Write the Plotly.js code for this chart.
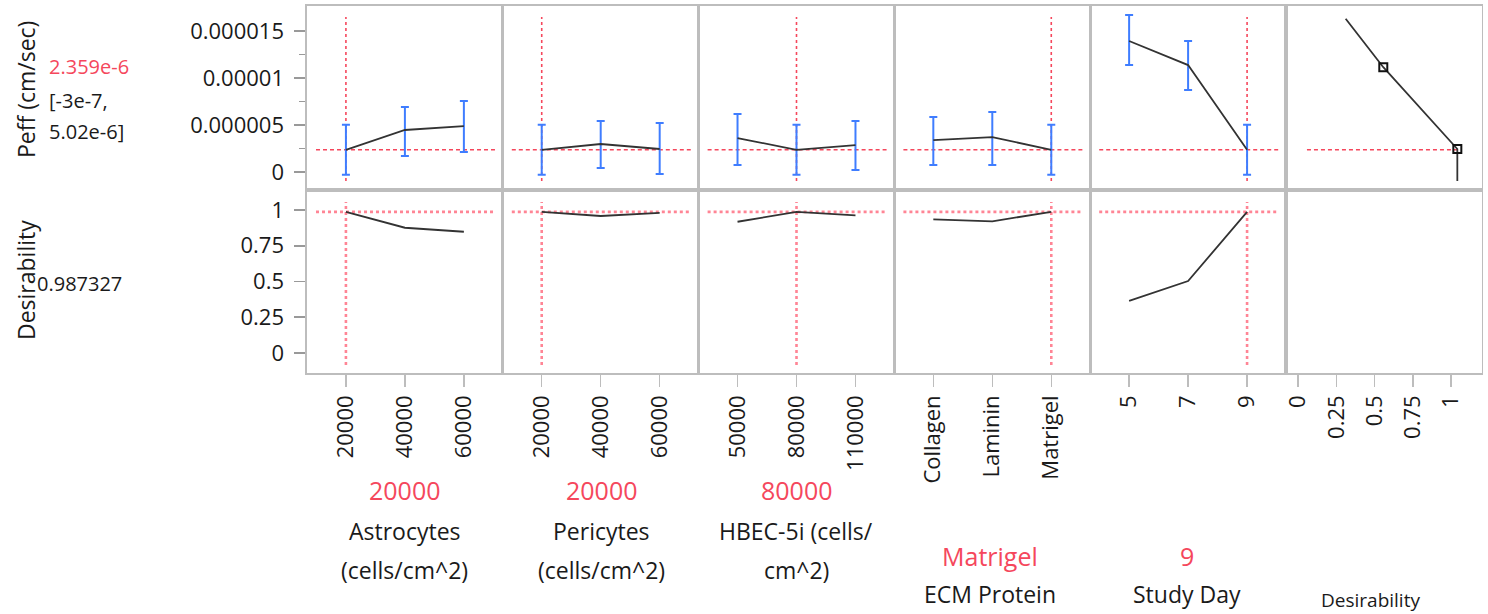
<!DOCTYPE html>
<html>
<head>
<meta charset="utf-8">
<script src="https://cdn.plot.ly/plotly-3.0.1.min.js"></script>
<style>
html,body{margin:0;padding:0;background:#fff;}
#chart{width:1488px;height:614px;}
</style>
</head>
<body>
<div id="chart"></div>
<script>
// ---------------- DATA ----------------
const currentPeff = 2.359e-6;
const currentLo = -3e-7;
const currentHi = 5.02e-6;
const currentDesirability = 0.987327;

const astroLevels = [20000, 40000, 60000];
const astroPeff   = [2.359e-6, 4.47e-6, 4.89e-6];
const astroLo     = [-3e-7, 1.70e-6, 2.13e-6];
const astroHi     = [5.02e-6, 6.91e-6, 7.55e-6];
const astroDes    = [0.987327, 0.876, 0.848];
const astroCurrent = 20000;

const periLevels = [20000, 40000, 60000];
const periPeff   = [2.359e-6, 2.98e-6, 2.45e-6];
const periLo     = [-3e-7, 0.43e-6, -0.21e-6];
const periHi     = [5.02e-6, 5.43e-6, 5.21e-6];
const periDes    = [0.987327, 0.958, 0.980];
const periCurrent = 20000;

const hbecLevels = [50000, 80000, 110000];
const hbecPeff   = [3.62e-6, 2.359e-6, 2.87e-6];
const hbecLo     = [0.74e-6, -3e-7, 0.21e-6];
const hbecHi     = [6.17e-6, 5.02e-6, 5.43e-6];
const hbecDes    = [0.918, 0.987327, 0.962];
const hbecCurrent = 80000;

const ecmLevels = ['Collagen', 'Laminin', 'Matrigel'];
const ecmPeff   = [3.40e-6, 3.72e-6, 2.359e-6];
const ecmLo     = [0.74e-6, 0.74e-6, -3e-7];
const ecmHi     = [5.85e-6, 6.38e-6, 5.02e-6];
const ecmDes    = [0.935, 0.921, 0.987327];
const ecmCurrent = 'Matrigel';

const dayLevels = [5, 7, 9];
const dayPeff   = [13.94e-6, 11.38e-6, 2.359e-6];
const dayLo     = [11.38e-6, 8.72e-6, -3e-7];
const dayHi     = [16.7e-6, 13.94e-6, 5.02e-6];
const dayDes    = [0.364, 0.503, 0.987327];
const dayCurrent = 9;

// desirability function (desirability on x, Peff on y)
const desCurveD    = [0.31, 0.556, 1.04, 1.04];
const desCurvePeff = [16.3e-6, 11.15e-6, 2.45e-6, -0.95e-6];
const desHandleD    = [0.556, 1.04];
const desHandlePeff = [11.15e-6, 2.45e-6];

const peffTickVals = [0, 5e-6, 1e-5, 1.5e-5];
const peffTickText = ['0', '0.000005', '0.00001', '0.000015'];
const peffMinorVals = [2.5e-6, 7.5e-6, 1.25e-5];
const desTickVals = [0, 0.25, 0.5, 0.75, 1];
const desTickText = ['0', '0.25', '0.5', '0.75', '1'];

const factorTitles = [
  ['Astrocytes', '(cells/cm^2)'],
  ['Pericytes', '(cells/cm^2)'],
  ['HBEC-5i (cells/', 'cm^2)'],
  ['ECM Protein'],
  ['Study Day']
];

// ---------------- LAYOUT / DRAW ----------------
const W = 1488, H = 614;
const FONT = 'Open Sans, Noto Sans, sans-serif';
const RED = '#f5475c';
const TXT = '#1a1a1a';
const FRAME = '#bdbdbd';
const BLUE = '#3f7dff';
const LINE = '#333333';

const colEdges = [307, 502.8, 698.6, 894.4, 1090.2, 1286, 1481.8];
const rowEdges = [6, 190, 373];
const px = v => v / W;
const py = v => 1 - v / H;

const factors = [
  {levels: astroLevels, peff: astroPeff, lo: astroLo, hi: astroHi, des: astroDes, cur: astroCurrent},
  {levels: periLevels, peff: periPeff, lo: periLo, hi: periHi, des: periDes, cur: periCurrent},
  {levels: hbecLevels, peff: hbecPeff, lo: hbecLo, hi: hbecHi, des: hbecDes, cur: hbecCurrent},
  {levels: ecmLevels, peff: ecmPeff, lo: ecmLo, hi: ecmHi, des: ecmDes, cur: ecmCurrent, cat: true},
  {levels: dayLevels, peff: dayPeff, lo: dayLo, hi: dayHi, des: dayDes, cur: dayCurrent}
];

const PAD = 0.66;
const peffRange = [-1.91e-6, 17.66e-6];
const desYRange = [-0.14, 1.14];
const desXRange = [-0.08, 1.2];

const layout = {
  width: W, height: H, autosize: false,
  margin: {l: 0, r: 0, t: 0, b: 0, pad: 0},
  paper_bgcolor: '#ffffff', plot_bgcolor: '#ffffff',
  showlegend: false,
  font: {family: FONT, color: TXT},
  shapes: [], annotations: []
};
const traces = [];

function baseAxis() {
  return {showline: true, mirror: true, linecolor: FRAME, linewidth: 1.6,
          showgrid: false, zeroline: false, fixedrange: true};
}

for (let r = 0; r < 2; r++) {
  for (let c = 0; c < 6; c++) {
    const i = r * 6 + c + 1;
    const xa = baseAxis(), ya = baseAxis();
    xa.domain = [px(colEdges[c]), px(colEdges[c + 1])];
    ya.domain = [py(rowEdges[r + 1]), py(rowEdges[r])];
    xa.anchor = 'y' + i; ya.anchor = 'x' + i;
    if (c < 5) {
      const f = factors[c];
      if (f.cat) {
        xa.type = 'category';
        xa.categoryorder = 'array'; xa.categoryarray = f.levels;
        xa.range = [-PAD, f.levels.length - 1 + PAD];
      } else {
        const step = f.levels[1] - f.levels[0];
        xa.range = [f.levels[0] - PAD * step, f.levels[f.levels.length - 1] + PAD * step];
        xa.tickmode = 'array'; xa.tickvals = f.levels; xa.ticktext = f.levels.map(String);
      }
    } else {
      xa.range = desXRange;
      xa.tickmode = 'array'; xa.tickvals = desTickVals; xa.ticktext = desTickText;
    }
    if (r === 1) {
      xa.ticks = 'outside'; xa.ticklen = 12; xa.tickwidth = 1.5; xa.tickcolor = FRAME;
      xa.tickangle = -90; xa.tickfont = {family: FONT, size: 22, color: TXT};
      xa.showticklabels = true;
    } else {
      xa.showticklabels = false; xa.ticks = '';
    }
    if (r === 0) {
      ya.range = peffRange;
    } else {
      ya.range = desYRange;
    }
    if (c === 0) {
      ya.ticks = 'outside'; ya.ticklen = 11; ya.tickwidth = 1.5; ya.tickcolor = '#999';
      ya.tickfont = {family: FONT, size: 22, color: TXT};
      ya.tickmode = 'array';
      if (r === 0) {
        ya.tickvals = peffTickVals; ya.ticktext = peffTickText;
        ya.minor = {tickmode: 'array', tickvals: peffMinorVals, ticks: 'outside', ticklen: 6, tickwidth: 1.5, tickcolor: '#999', showgrid: false};
      } else {
        ya.tickvals = desTickVals; ya.ticktext = desTickText;
      }
      ya.ticklabelstandoff = 6;
    } else {
      ya.showticklabels = false; ya.ticks = '';
    }
    layout['xaxis' + i] = xa;
    layout['yaxis' + i] = ya;
  }
}

// factor profiles
factors.forEach((f, c) => {
  const iTop = c + 1, iBot = c + 7;
  traces.push({
    type: 'scatter', mode: 'lines', x: f.levels, y: f.peff,
    xaxis: 'x' + iTop, yaxis: 'y' + iTop,
    line: {color: LINE, width: 1.8}, hoverinfo: 'skip',
    error_y: {type: 'data', symmetric: false,
      array: f.hi.map((h, k) => h - f.peff[k]),
      arrayminus: f.lo.map((l, k) => f.peff[k] - l),
      color: BLUE, thickness: 2, width: 4}
  });
  traces.push({
    type: 'scatter', mode: 'lines', x: f.levels, y: f.des,
    xaxis: 'x' + iBot, yaxis: 'y' + iBot,
    line: {color: LINE, width: 1.8}, hoverinfo: 'skip'
  });
  const curX = f.cat ? f.levels.indexOf(f.cur) : f.cur;
  layout.shapes.push({type: 'line', layer: 'below', xref: 'x' + iTop + ' domain', yref: 'y' + iTop,
    x0: 0.046, x1: 0.96, y0: currentPeff, y1: currentPeff,
    line: {color: RED, width: 1.5, dash: '4px,3px'}});
  layout.shapes.push({type: 'line', layer: 'below', xref: 'x' + iTop, yref: 'y' + iTop + ' domain',
    x0: curX, x1: curX, y0: 0.049, y1: 0.94,
    line: {color: RED, width: 1.6, dash: 'dot'}});
  layout.shapes.push({type: 'line', layer: 'below', xref: 'x' + iBot + ' domain', yref: 'y' + iBot,
    x0: 0.046, x1: 0.96, y0: currentDesirability, y1: currentDesirability,
    line: {color: '#ff8595', width: 2.6, dash: 'dot'}});
  layout.shapes.push({type: 'line', layer: 'below', xref: 'x' + iBot, yref: 'y' + iBot + ' domain',
    x0: curX, x1: curX, y0: 0.044, y1: 0.934,
    line: {color: '#ff8595', width: 2.6, dash: 'dot'}});
});

// desirability function panel
traces.push({
  type: 'scatter', mode: 'lines', x: desCurveD, y: desCurvePeff,
  xaxis: 'x6', yaxis: 'y6', line: {color: LINE, width: 1.8}, hoverinfo: 'skip'
});
traces.push({
  type: 'scatter', mode: 'markers', x: desHandleD, y: desHandlePeff,
  xaxis: 'x6', yaxis: 'y6', hoverinfo: 'skip',
  marker: {symbol: 'square-open', size: 8, color: '#111', line: {width: 2, color: '#111'}}
});
// empty bottom-right panel (needs a trace so the subplot is drawn)
traces.push({
  type: 'scatter', mode: 'lines', x: [], y: [],
  xaxis: 'x12', yaxis: 'y12', hoverinfo: 'skip'
});
layout.shapes.push({type: 'line', layer: 'below', xref: 'x6 domain', yref: 'y6',
  x0: 0.107, x1: 0.873, y0: currentPeff, y1: currentPeff,
  line: {color: RED, width: 1.5, dash: '4px,3px'}});

// annotations
function ann(text, x, y, size, color, opts) {
  layout.annotations.push(Object.assign({
    text: text, x: px(x), y: py(y), xref: 'paper', yref: 'paper',
    showarrow: false, xanchor: 'center', yanchor: 'middle',
    font: {family: FONT, size: size, color: color}
  }, opts || {}));
}
ann('Peff (cm/sec)', 26, 90, 23, TXT, {textangle: -90});
ann(currentPeff.toExponential(3), 47, 66, 20, RED, {xanchor: 'left'});
ann('[' + currentLo.toExponential(0) + ',', 47, 101, 20, TXT, {xanchor: 'left'});
ann(currentHi.toExponential(2) + ']', 47, 131, 20, TXT, {xanchor: 'left'});
ann('Desirability', 26, 280, 23, TXT, {textangle: -90});
ann(String(currentDesirability), 35, 283, 20, TXT, {xanchor: 'left'});

const colCenters = [405, 601, 796, 990, 1187];
factors.forEach((f, c) => {
  const t = factorTitles[c];
  if (t.length === 2) {
    ann(String(f.cur), colCenters[c], 490, 25, RED);
    ann(t[0], colCenters[c], 531, 23, TXT);
    ann(t[1], colCenters[c], 570, 23, TXT);
  } else {
    ann(String(f.cur), colCenters[c], 556, 25, RED);
    ann(t[0], colCenters[c], 594, 23, TXT);
  }
});
ann('Desirability', 1370, 600, 19, TXT);

Plotly.newPlot('chart', traces, layout, {staticPlot: true, displayModeBar: false});
</script>
</body>
</html>
